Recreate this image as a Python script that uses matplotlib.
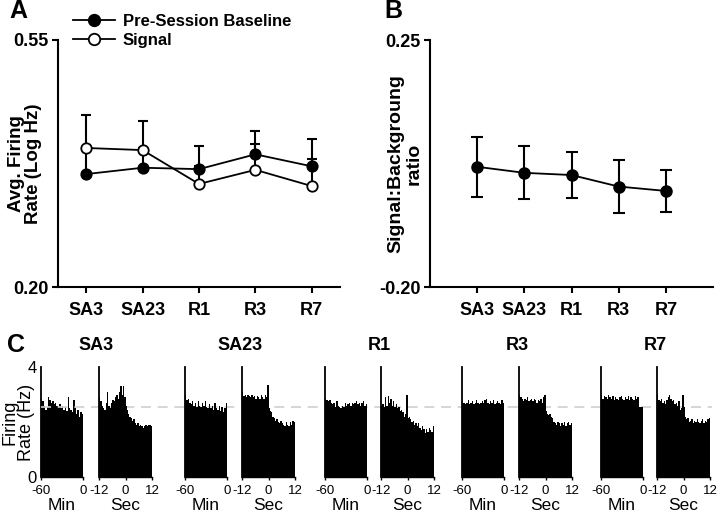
import numpy as np
import matplotlib
matplotlib.use("Agg")
import matplotlib.pyplot as plt
from matplotlib.ticker import FormatStrFormatter

plt.rcParams['font.family'] = ['Liberation Sans', 'DejaVu Sans']
plt.rcParams['axes.unicode_minus'] = False

# --- Panel A / B data
sessions = ["SA3", "SA23", "R1", "R3", "R7"]
baseline = [0.360, 0.369, 0.367, 0.388, 0.371]
baseline_err = [0.038, 0.028, 0.033, 0.033, 0.039]
signal = [0.397, 0.394, 0.346, 0.366, 0.343]
signal_err = [0.047, 0.041, 0.025, 0.036, 0.038]

ratio = [0.019, 0.008, 0.004, -0.017, -0.025]
ratio_err = [0.055, 0.048, 0.042, 0.049, 0.038]

# --- Panel C data: firing rate histograms (Hz)
hist_min = {
    "SA3": [2.85, 2.75, 2.6, 2.45, 2.55, 2.9, 2.8, 2.7, 2.75, 2.65, 2.7, 2.6, 2.55, 2.65, 2.5,
            2.6, 2.45, 2.55, 2.4, 2.9, 2.5, 2.45, 2.35, 2.8, 2.5, 2.3, 2.45, 2.2, 2.35, 2.3],
    "SA23": [3.0, 2.8, 2.85, 2.7, 2.65, 2.75, 2.6, 2.7, 2.55, 2.75, 2.6, 2.55, 2.7, 2.6, 2.75,
             2.55, 2.5, 2.65, 2.5, 2.6, 2.45, 2.7, 2.5, 2.45, 2.6, 2.4, 2.55, 2.35, 2.5, 2.7],
    "R1": [2.85, 2.8, 2.75, 2.8, 2.7, 2.65, 2.7, 2.55, 2.75, 2.6, 2.55, 2.5, 2.6, 2.55, 2.7,
           2.6, 2.65, 2.7, 2.6, 2.7, 2.65, 2.7, 2.75, 2.65, 2.7, 2.6, 2.7, 2.75, 2.6, 2.65],
    "R3": [2.75, 2.7, 2.65, 2.7, 2.8, 2.65, 2.7, 2.75, 2.65, 2.7, 2.8, 2.7, 2.65, 2.7, 2.75,
           2.7, 2.8, 2.85, 2.7, 2.65, 2.75, 2.7, 2.8, 2.65, 2.7, 2.75, 2.7, 2.65, 2.8, 2.7],
    "R7": [3.0, 2.85, 2.95, 2.9, 2.85, 3.0, 2.9, 2.85, 2.95, 2.8, 2.9, 2.85, 2.8, 2.9, 2.95,
           2.85, 2.8, 2.9, 2.85, 2.95, 2.8, 2.9, 2.85, 2.8, 2.95, 2.85, 2.9, 2.55, 2.55, 2.55],
}
hist_sec = {
    "SA3": [2.9, 2.75, 2.6, 2.5, 2.45, 2.7, 3.1, 2.6, 2.5, 2.7, 2.8, 2.75, 2.9, 3.0, 2.85,
            3.1, 3.3, 3.0, 3.3, 2.9, 2.6, 2.45, 2.3, 2.2, 2.15, 2.05, 2.1, 1.95, 1.9, 1.95,
            1.85, 1.9, 1.85, 1.8, 1.85, 1.9, 1.85, 1.9, 1.9, 1.85],
    "SA23": [3.1, 2.95, 3.0, 2.9, 3.0, 2.95, 2.9, 3.0, 2.9, 2.95, 2.85, 2.95, 2.9, 2.85, 3.0,
             2.9, 2.85, 3.0, 2.9, 3.35, 2.5, 2.4, 2.35, 2.2, 2.15, 2.05, 2.1, 2.0, 1.95, 2.05,
             1.95, 1.9, 1.85, 2.0, 1.9, 1.85, 2.0, 1.9, 2.05, 2.0],
    "R1": [2.6, 2.65, 2.55, 2.9, 2.6, 2.95, 2.7, 2.85, 2.6, 2.75, 2.55, 2.65, 2.5, 2.55, 2.4,
           2.45, 2.35, 2.2, 2.3, 3.0, 2.15, 2.2, 2.1, 2.0, 2.05, 1.9, 1.95, 1.85, 1.95, 1.8,
           1.7, 1.85, 1.75, 1.6, 1.75, 1.65, 1.8, 1.7, 1.65, 1.85],
    "R3": [3.0, 2.9, 2.85, 2.75, 2.85, 2.8, 2.9, 2.75, 2.8, 2.85, 2.75, 2.85, 2.8, 2.7, 2.8,
           2.75, 2.85, 2.7, 2.9, 3.0, 2.4, 2.3, 2.25, 2.3, 2.2, 2.15, 2.0, 1.95, 1.9, 2.0,
           1.95, 1.85, 1.95, 1.9, 2.0, 1.85, 1.95, 2.0, 1.9, 1.95],
    "R7": [3.0, 2.8, 2.75, 2.85, 2.7, 2.75, 2.65, 2.8, 2.9, 3.0, 2.85, 2.75, 2.8, 2.65, 2.7,
           2.6, 2.75, 2.45, 2.5, 3.0, 2.55, 2.2, 2.1, 2.15, 2.0, 2.05, 2.1, 1.95, 2.05, 2.0,
           2.1, 2.0, 1.95, 2.05, 2.1, 1.95, 2.05, 2.0, 2.1, 2.15],
}
ref_rate = 2.55

W, H = 720, 520
fig = plt.figure(figsize=(W / 100, H / 100), dpi=100)


def px_axes(left, top, right, bottom):
    return fig.add_axes([left / W, 1 - bottom / H, (right - left) / W, (bottom - top) / H])


def style_axes(ax):
    for s in ("top", "right"):
        ax.spines[s].set_visible(False)
    for s in ("left", "bottom"):
        ax.spines[s].set_linewidth(1.5)
    ax.set_facecolor("none")


def bold_ticks(ax):
    for t in ax.get_xticklabels() + ax.get_yticklabels():
        t.set_fontweight("bold")


x = np.arange(1, len(sessions) + 1)
no_err = np.zeros(len(sessions))

# --- Panel A
axA = px_axes(58, 40, 340, 287)
style_axes(axA)
axA.errorbar(x, baseline, yerr=[no_err, baseline_err], fmt="none", ecolor="black",
             capsize=3.5, capthick=1.5, elinewidth=1.5, zorder=2)
axA.errorbar(x, signal, yerr=[no_err, signal_err], fmt="none", ecolor="black",
             capsize=3.5, capthick=1.5, elinewidth=1.5, zorder=2)
axA.plot(x, baseline, color="black", lw=1.3, marker="o", ms=7.5, mfc="black", mec="black",
         mew=1.3, label="Pre-Session Baseline", zorder=3)
axA.plot(x, signal, color="black", lw=1.3, marker="o", ms=7.5, mfc="white", mec="black",
         mew=1.3, label="Signal", zorder=4)
axA.set_xlim(0.5, 5.5)
axA.set_ylim(0.20, 0.55)
axA.set_yticks([0.20, 0.55])
axA.yaxis.set_major_formatter(FormatStrFormatter("%.2f"))
axA.set_xticks(x)
axA.set_xticklabels(sessions)
axA.tick_params(axis="x", length=4, width=1.5, pad=7, labelsize=13)
axA.tick_params(axis="y", length=4, width=1.5, pad=3, labelsize=13)
bold_ticks(axA)
axA.set_ylabel("Avg. Firing\nRate (Log Hz)", fontsize=13.5, fontweight="bold",
               linespacing=1.05, va="center")
axA.yaxis.set_label_coords((25 - 58) / 282, 0.5)
axA.legend(loc="upper left", bbox_to_anchor=(73 / W, 1 - 14 / H), bbox_transform=fig.transFigure,
           frameon=False, handlelength=2.5, handletextpad=0.5, borderaxespad=0,
           borderpad=0, labelspacing=0.25, markerscale=1.1, prop={"weight": "bold", "size": 12})

# --- Panel B
axB = px_axes(430, 40, 713, 287)
style_axes(axB)
axB.errorbar(x, ratio, yerr=ratio_err, color="black", lw=1.3, capsize=4, capthick=1.5,
             elinewidth=1.5, marker="o", ms=8, mfc="black", mec="black")
axB.set_xlim(0, 6)
axB.set_ylim(-0.20, 0.25)
axB.set_yticks([-0.20, 0.25])
axB.yaxis.set_major_formatter(FormatStrFormatter("%.2f"))
axB.set_xticks(x)
axB.set_xticklabels(sessions)
axB.tick_params(axis="x", length=4, width=1.5, pad=7, labelsize=13)
axB.tick_params(axis="y", length=4, width=1.5, pad=3, labelsize=13)
bold_ticks(axB)
axB.set_ylabel("Signal:Backgroung\nratio", fontsize=14, fontweight="bold",
               linespacing=1.05, va="center")
axB.yaxis.set_label_coords((405 - 430) / 283, 0.5)

# --- Panel C
min_lefts = [41, 185, 325, 462, 601]
sec_lefts = [99, 242, 381, 519, 657]
min_w, sec_w = 42, 53
top_c, bot_c = 367, 477

for i, name in enumerate(sessions):
    axm = px_axes(min_lefts[i], top_c, min_lefts[i] + min_w, bot_c)
    axs = px_axes(sec_lefts[i], top_c, sec_lefts[i] + sec_w, bot_c)

    vals_m = hist_min[name]
    edges_m = np.linspace(-60, 0, len(vals_m) + 1)
    axm.bar(edges_m[:-1], vals_m, width=np.diff(edges_m), align="edge", color="black", lw=0)
    axm.set_xlim(-60, 0)
    axm.set_xticks([-60, 0])
    axm.set_xlabel("Min", fontsize=12.5, labelpad=1)

    vals_s = hist_sec[name]
    edges_s = np.linspace(-12, 12, len(vals_s) + 1)
    axs.bar(edges_s[:-1], vals_s, width=np.diff(edges_s), align="edge", color="black", lw=0)
    axs.set_xlim(-12, 12)
    axs.set_xticks([-12, 0, 12])
    axs.set_xlabel("Sec", fontsize=12.5, labelpad=1)

    for ax in (axm, axs):
        style_axes(ax)
        ax.spines["left"].set_linewidth(1.3)
        ax.spines["bottom"].set_linewidth(1.0)
        ax.set_ylim(0, 4)
        ax.tick_params(axis="x", length=2.5, width=1, pad=3, labelsize=9.5)
        if ax is axm and i == 0:
            ax.set_yticks([0, 4])
            ax.tick_params(axis="y", length=0, pad=3, labelsize=12)
        else:
            ax.set_yticks([])

    if i == 0:
        axm.set_ylabel("Firing\nRate (Hz)", fontsize=13, linespacing=0.95, va="center")
        axm.yaxis.set_label_coords((18 - 41) / 42, 0.5)
        # dashed reference line spanning all histograms
        axm.axhline(ref_rate, xmin=0, xmax=(712 - min_lefts[0]) / min_w, color="#cfcfcf",
                    ls=(0, (6, 4)), lw=1.2, clip_on=False, zorder=5)

    mid = (min_lefts[i] + sec_lefts[i] + sec_w) / 2
    fig.text(mid / W, 1 - 346 / H, name, fontsize=13, fontweight="bold", ha="center", va="center")

# panel letters
fig.text(9 / W, 1 - 11 / H, "A", fontsize=18, fontweight="bold", ha="left", va="center")
fig.text(384 / W, 1 - 11 / H, "B", fontsize=18, fontweight="bold", ha="left", va="center")
fig.text(7 / W, 1 - 345 / H, "C", fontsize=18, fontweight="bold", ha="left", va="center")

fig.savefig("out.png", dpi=100)
